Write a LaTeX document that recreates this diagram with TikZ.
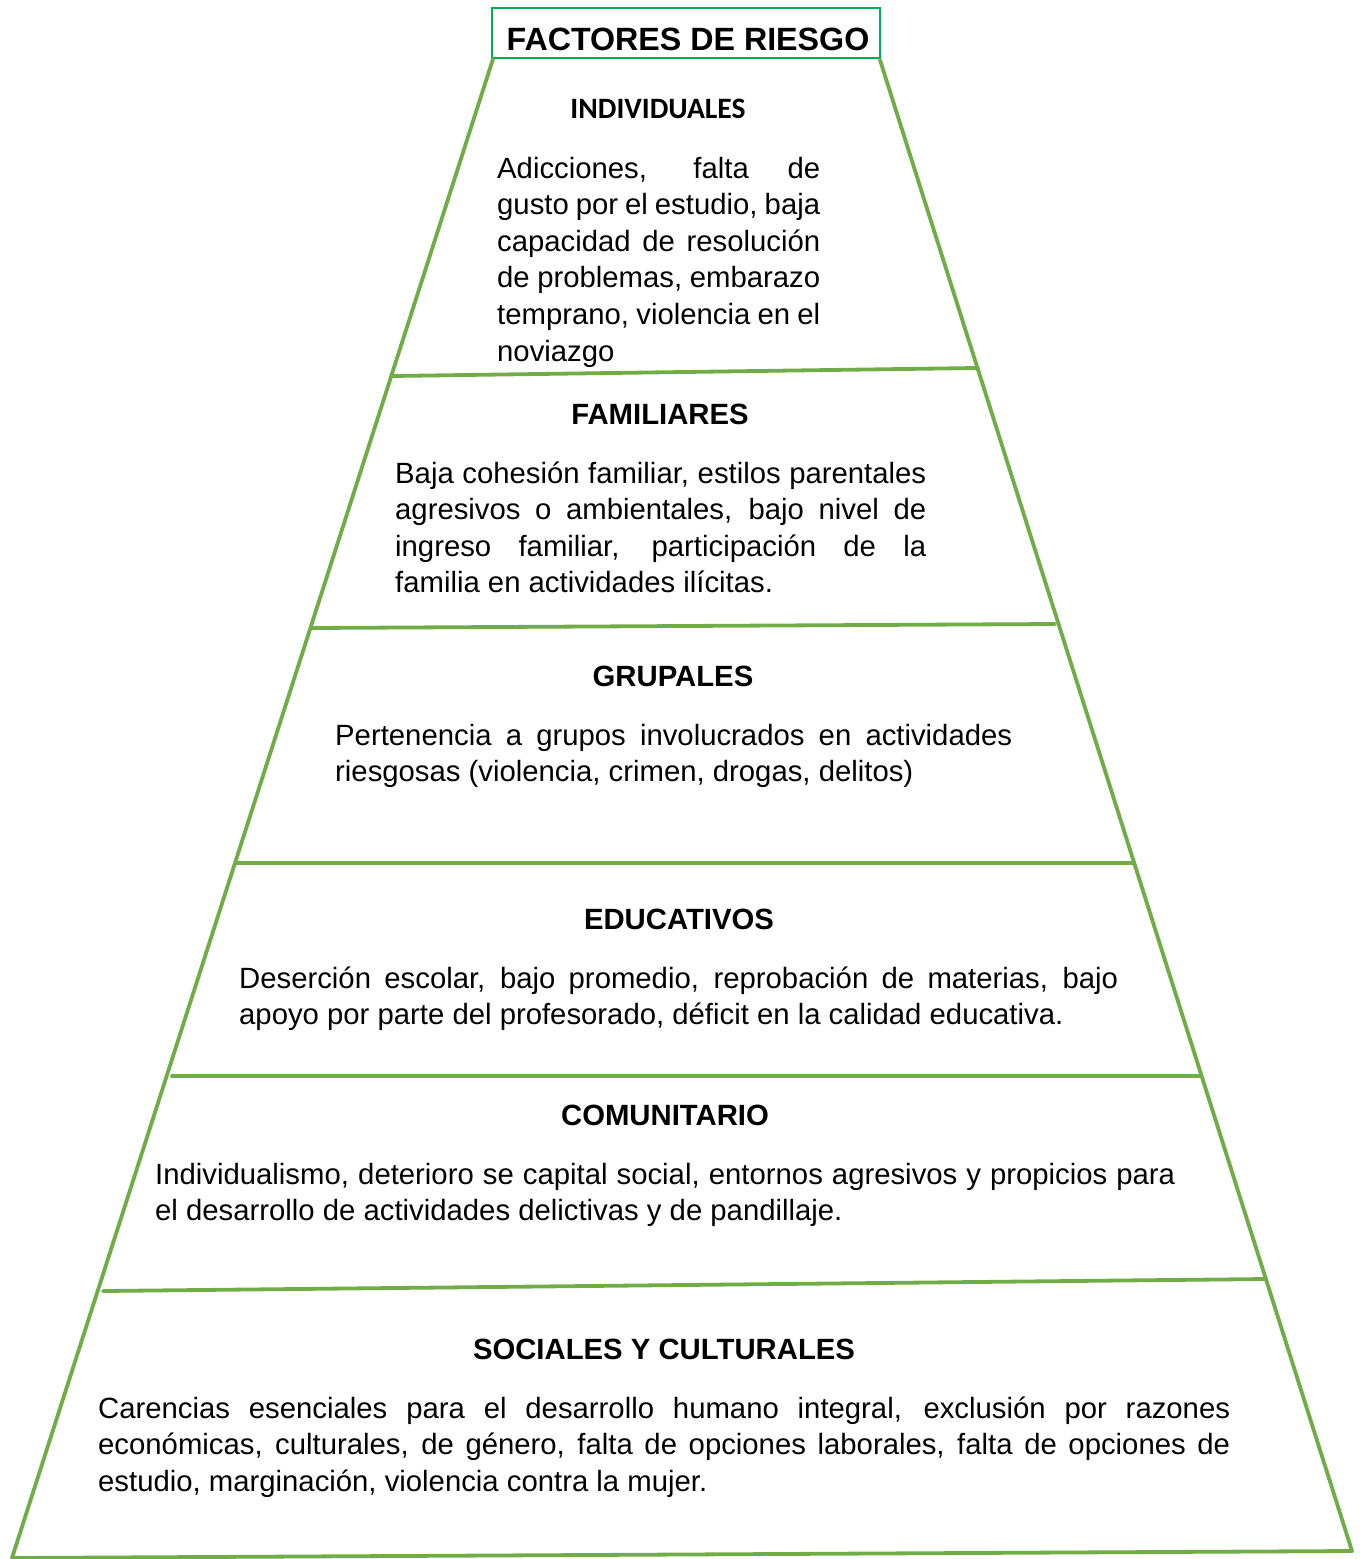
\documentclass[tikz,border=0pt]{standalone}
\usepackage{fontspec}
\setmainfont{Liberation Sans}
\newfontfamily\calfont{Carlito}
\definecolor{pyr}{HTML}{70AD47}
\definecolor{tgreen}{HTML}{00B050}
\newcommand\jl[2]{\hbox to #1pt{#2}}
\begin{document}
\begin{tikzpicture}[x=1pt,y=-1pt,
  pline/.style={draw=pyr,line width=3.8pt,line cap=round},
  body/.style={anchor=base west,inner sep=0pt,font=\fontsize{29.3}{36.6}\selectfont},
  head/.style={anchor=base,inner sep=0pt,font=\fontsize{29.3}{36.6}\selectfont\bfseries}]
\useasboundingbox (0,0) rectangle (1360,1559);
% title
\node[draw=tgreen,line width=2.2pt,minimum width=388pt,minimum height=50pt,inner sep=0pt] (title) at (686,33) {};
\node[anchor=base,inner sep=0pt,font=\fontsize{32.2}{38}\selectfont\bfseries] (ttext) at (688,50.5) {FACTORES DE RIESGO};
% pyramid corners
\coordinate (L0) at (493,59);
\coordinate (R0) at (880,60);
\coordinate (L6) at (12,1558);
\coordinate (R6) at (1352,1551);
\coordinate (a1) at (392,376); \coordinate (b1) at (976,368);
\coordinate (a2) at (311,628); \coordinate (b2) at (1055,624);
\coordinate (a3) at (236,863); \coordinate (b3) at (1133,863);
\coordinate (a4) at (172,1076); \coordinate (b4) at (1199,1076);
\coordinate (a5) at (103,1291); \coordinate (b5) at (1266,1279);
\draw[pline] (L0) -- (L6);
\draw[pline] (R0) -- (R6);
\draw[pline] (a1) -- (b1);
\draw[pline] (a2) -- (b2);
\draw[pline] (a3) -- (b3);
\draw[pline] (a4) -- (b4);
\draw[pline] (a5) -- (b5);
\draw[pline] (L6) -- (R6);
% headings
\node[head,font=\fontsize{29.6}{34}\selectfont\calfont\bfseries] (h1) at (658,118) {INDIVIDUALES};
\node[head] (h2) at (660,424) {FAMILIARES};
\node[head] (h3) at (673,686) {GRUPALES};
\node[head] (h4) at (679,929) {EDUCATIVOS};
\node[head] (h5) at (665,1125) {COMUNITARIO};
\node[head] (h6) at (664,1359) {SOCIALES Y CULTURALES};
% bodies
\node[body] (t1) at (497,178) {\vtop{%
\jl{323}{Adicciones, falta de}
\jl{323}{gusto por el estudio, baja}
\jl{323}{capacidad de resolución}
\jl{323}{de problemas, embarazo}
\jl{323}{temprano, violencia en el}
\hbox{noviazgo}}};
\node[body] (t2) at (395,483) {\vtop{%
\jl{531}{Baja cohesión familiar, estilos parentales}
\jl{531}{agresivos o ambientales, bajo nivel de}
\jl{531}{ingreso familiar, participación de la}
\hbox{familia en actividades ilícitas.}}};
\node[body] (t3) at (335,745) {\vtop{%
\jl{677}{Pertenencia a grupos involucrados en actividades}
\hbox{riesgosas (violencia, crimen, drogas, delitos)}}};
\node[body] (t4) at (239,988) {\vtop{%
\jl{879}{Deserción escolar, bajo promedio, reprobación de materias, bajo}
\hbox{apoyo por parte del profesorado, déficit en la calidad educativa.}}};
\node[body] (t5) at (155,1184) {\vtop{%
\jl{1020}{Individualismo, deterioro se capital social, entornos agresivos y propicios para}
\hbox{el desarrollo de actividades delictivas y de pandillaje.}}};
\node[body] (t6) at (98,1418) {\vtop{%
\jl{1132}{Carencias esenciales para el desarrollo humano integral, exclusión por razones}
\jl{1132}{económicas, culturales, de género, falta de opciones laborales, falta de opciones de}
\hbox{estudio, marginación, violencia contra la mujer.}}};
\end{tikzpicture}
\end{document}
